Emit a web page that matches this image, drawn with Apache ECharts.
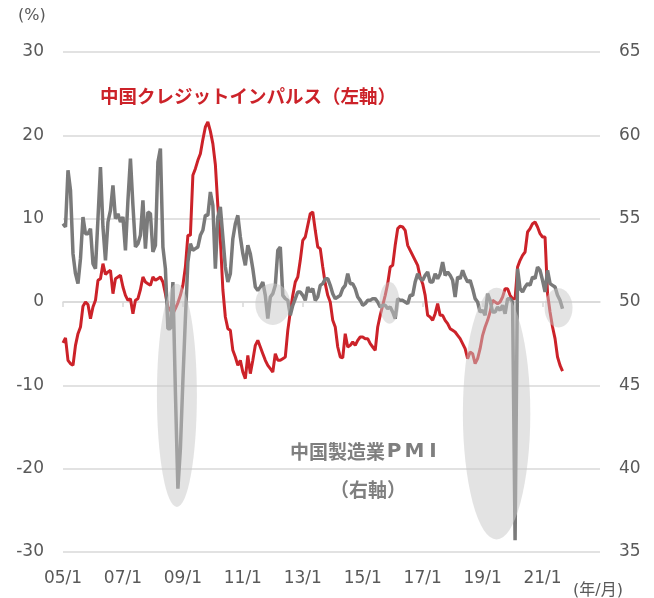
<!DOCTYPE html>
<html><head><meta charset="utf-8">
<script src="https://cdn.jsdelivr.net/npm/echarts@6/dist/echarts.min.js"></script>
<style>html,body{margin:0;padding:0;background:#fff}#c{width:654px;height:598px}</style>
</head><body><div id="c"></div>
<script>
// Monthly categories 2005/1 .. 2022/12 (axis span), data runs 2005/1 .. 2021/9
const categories = [];
for (let y = 2005; y <= 2022; y++) for (let m = 1; m <= 12; m++) categories.push(String(y % 100).padStart(2, '0') + '/' + m);

// 中国クレジットインパルス (%), left axis
const creditImpulse = [
  -4.9, -4.3, -7.0, -7.4, -7.6, -5.2, -3.8, -3.0, -0.5, 0.0, -0.3, -2.0,
  -0.6, 0.2, 2.6, 2.8, 4.6, 3.3, 3.6, 3.8, 1.0, 2.8, 3.0, 3.2,
  1.8, 0.8, 0.2, 0.4, -1.4, 0.2, 0.4, 1.5, 3.0, 2.4, 2.2, 2.0,
  3.0, 2.6, 2.8, 3.0, 2.4, 1.0, -0.6, -1.0, -1.4, -0.8, -0.1, 0.8,
  2.0, 4.2, 8.0, 8.0, 15.2, 16.0, 17.0, 17.8, 19.5, 21.0, 21.6, 20.5,
  19.0, 16.5, 11.5, 7.5, 1.5, -1.8, -3.2, -3.4, -5.8, -6.6, -7.6, -7.0,
  -8.4, -9.2, -6.4, -8.6, -7.0, -5.2, -4.6, -5.4, -6.2, -7.0, -7.6, -8.0,
  -8.4, -6.2, -7.0, -7.0, -6.8, -6.6, -3.4, -1.2, 0.8, 2.4, 3.0, 5.0,
  7.4, 7.8, 9.2, 10.6, 10.8, 8.6, 6.6, 6.4, 4.2, 2.2, 0.8, 0.0,
  -2.2, -3.0, -5.4, -6.6, -6.7, -3.8, -5.4, -5.2, -4.8, -5.2, -4.6, -4.2,
  -4.2, -4.4, -4.4, -5.0, -5.4, -5.8, -3.0, -1.6, -0.4, 0.8, 2.2, 4.2,
  4.4, 6.8, 8.8, 9.1, 9.0, 8.6, 6.8, 6.2, 5.6, 5.0, 4.4, 3.0,
  2.2, 0.8, -1.6, -1.8, -2.2, -1.4, -0.2, -1.6, -1.6, -2.2, -2.6, -3.2,
  -3.4, -3.6, -4.0, -4.4, -5.0, -5.6, -6.8, -6.0, -6.2, -7.4, -6.8, -5.6,
  -4.0, -3.0, -2.2, -1.2, 0.2, 0.0, -0.2, 0.0, 0.6, 1.6, 1.6, 0.8,
  0.4, 0.4, 4.2, 5.0, 5.6, 6.0, 8.4, 8.8, 9.4, 9.6, 9.0, 8.2,
  7.8, 7.8, 1.0, -1.2, -3.0, -4.4, -6.6, -7.6, -8.3
];

// 中国製造業PMI, right axis
const pmi = [
  54.7, 54.5, 57.9, 56.7, 52.9, 51.7, 51.1, 52.6, 55.1, 54.1, 54.1, 54.4,
  52.3, 52.0, 55.0, 58.1, 54.5, 52.5, 54.8, 55.5, 57.0, 55.0, 55.3, 54.8,
  55.1, 53.1, 56.1, 58.6, 55.8, 53.3, 53.5, 54.0, 56.1, 53.2, 55.4, 55.3,
  53.0, 53.4, 58.4, 59.2, 53.3, 52.0, 48.4, 48.4, 51.2, 44.6, 38.8, 41.2,
  45.3, 49.0, 52.4, 53.5, 53.1, 53.2, 53.3, 54.0, 54.3, 55.2, 55.2, 56.6,
  55.8, 52.0, 55.1, 55.7, 53.9, 52.1, 51.2, 51.7, 53.8, 54.7, 55.2, 53.9,
  52.9, 52.2, 53.4, 52.9, 52.0, 50.9, 50.7, 50.9, 51.2, 50.4, 49.0, 50.3,
  50.5, 51.0, 53.1, 53.3, 50.4, 50.2, 50.1, 49.2, 49.8, 50.2, 50.6, 50.6,
  50.4, 50.1, 50.9, 50.6, 50.8, 50.1, 50.3, 51.0, 51.1, 51.4, 51.4, 51.0,
  50.5, 50.2, 50.3, 50.4, 50.8, 51.0, 51.7, 51.1, 51.1, 50.8, 50.3, 50.1,
  49.8, 49.9, 50.1, 50.1, 50.2, 50.2, 50.0, 49.7, 49.8, 49.8, 49.6, 49.7,
  49.4, 49.0, 50.2, 50.1, 50.1, 50.0, 49.9, 50.4, 50.4, 51.2, 51.7, 51.4,
  51.3, 51.6, 51.8, 51.2, 51.2, 51.7, 51.4, 51.7, 52.4, 51.6, 51.8, 51.6,
  51.3, 50.3, 51.5, 51.4, 51.9, 51.5, 51.2, 51.3, 50.8, 50.2, 50.0, 49.4,
  49.5, 49.2, 50.5, 50.1, 49.4, 49.4, 49.7, 49.5, 49.8, 49.3, 50.2, 50.2,
  50.0, 35.7, 52.0, 50.8, 50.6, 50.9, 51.1, 51.0, 51.5, 51.4, 52.1, 51.9,
  51.3, 50.6, 51.9, 51.1, 51.0, 50.9, 50.4, 50.1, 49.6
];

const leftAxisTicks = { min: -30, max: 30, interval: 10 };
const rightAxisTicks = { min: 35, max: 65, interval: 5 };

// highlight ellipses in data units: month index, left-axis value, radii
const highlights = [
  { idx: 45.6, val: -11.2, rIdx: 8.0, rVal: 13.4 },
  { idx: 84.0, val: -0.25, rIdx: 7.0, rVal: 2.5 },
  { idx: 130.7, val: -0.1, rIdx: 4.0, rVal: 2.5 },
  { idx: 173.6, val: -13.4, rIdx: 13.5, rVal: 15.1 },
  { idx: 198.4, val: -0.7, rIdx: 5.6, rVal: 2.35 }
];

const GRID = '#d9d9d9', LBL = '#595959', RED = '#cc2229', GRAY = '#7a7a7a', TGRAY = '#7f7f7f';
const chart = echarts.init(document.getElementById('c'), null, { renderer: 'canvas' });
const labelFont = { color: LBL, fontSize: 17, fontFamily: 'DejaVu Sans' };

chart.setOption({
  animation: false,
  backgroundColor: '#fff',
  grid: { left: 63, right: 54, top: 52, bottom: 46, containLabel: false },
  xAxis: [
    {
      type: 'category', data: categories, boundaryGap: false,
      axisLine: { onZero: true, lineStyle: { color: GRID, width: 1.5 } },
      axisTick: { show: true, interval: 23, length: 5, lineStyle: { color: GRID, width: 1.5 } },
      axisLabel: { show: false }, splitLine: { show: false }
    },
    {
      type: 'category', data: categories, boundaryGap: false, position: 'bottom',
      axisLine: { show: false, onZero: false }, axisTick: { show: false },
      axisLabel: Object.assign({ interval: 23, margin: 18 }, labelFont),
      splitLine: { show: false }
    }
  ],
  yAxis: [
    Object.assign({ type: 'value', position: 'left',
      axisLine: { show: false }, axisTick: { show: false },
      axisLabel: Object.assign({ margin: 19 }, labelFont),
      splitLine: { lineStyle: { color: GRID, width: 1.5 } } }, leftAxisTicks),
    Object.assign({ type: 'value', position: 'right',
      axisLine: { show: false }, axisTick: { show: false },
      axisLabel: Object.assign({ margin: 19 }, labelFont),
      splitLine: { show: false } }, rightAxisTicks)
  ],
  series: [
    { name: '中国クレジットインパルス', type: 'line', data: creditImpulse, xAxisIndex: 0, yAxisIndex: 0,
      showSymbol: false, symbol: 'none', lineStyle: { color: RED, width: 3 }, z: 2 },
    { name: '中国製造業PMI', type: 'line', data: pmi, xAxisIndex: 0, yAxisIndex: 1,
      showSymbol: false, symbol: 'none', lineStyle: { color: GRAY, width: 3.5 }, z: 3 }
  ]
});

const x0 = chart.convertToPixel({ xAxisIndex: 0 }, 0);
const x1 = chart.convertToPixel({ xAxisIndex: 0 }, 1);
const dx = x1 - x0;
const yz = chart.convertToPixel({ yAxisIndex: 0 }, 0);
const yo = chart.convertToPixel({ yAxisIndex: 0 }, 1);
const dy = yz - yo;

const graphics = highlights.map(h => {
  const rx = h.rIdx * dx, ry = h.rVal * dy;
  return { type: 'circle', silent: true, z: 20,
    x: x0 + h.idx * dx, y: yz - h.val * dy, scaleX: rx / ry, scaleY: 1,
    shape: { cx: 0, cy: 0, r: ry },
    style: { fill: 'rgba(200,200,200,0.5)' } };
});
const CJK = '"Noto Sans CJK JP", sans-serif';
const latinBold = { fill: TGRAY, fontSize: 20, fontWeight: 'bold', fontFamily: 'DejaVu Sans', align: 'center' };
graphics.push(
  { type: 'text', z: 30, x: 18, y: 16, style: { text: '(%)', fill: LBL, font: '16px "DejaVu Sans", ' + CJK, verticalAlign: 'middle' } },
  { type: 'text', z: 30, x: 573, y: 591, style: { text: '(年/月)', fill: LBL, font: '16px "DejaVu Sans", ' + CJK, verticalAlign: 'middle' } },
  { type: 'text', z: 30, x: 100, y: 96, style: { text: '中国クレジットインパルス（左軸）', fill: RED, font: 'bold 18.5px ' + CJK, verticalAlign: 'middle' } },
  { type: 'text', z: 30, x: 290, y: 452, style: {
      text: '{c|中国製造業}{p|P}{m|M}{i|I}', verticalAlign: 'middle',
      rich: {
        c: { fill: TGRAY, fontSize: 19, fontWeight: 'bold', fontFamily: 'Noto Sans CJK JP' },
        p: Object.assign({ width: 18 }, latinBold),
        m: Object.assign({ width: 23 }, latinBold),
        i: Object.assign({ width: 14 }, latinBold)
      } } },
  { type: 'text', z: 30, x: 368, y: 490, style: { text: '（右軸）', fill: TGRAY, font: 'bold 19px ' + CJK, align: 'center', verticalAlign: 'middle' } }
);
chart.setOption({ graphic: graphics });
</script></body></html>
